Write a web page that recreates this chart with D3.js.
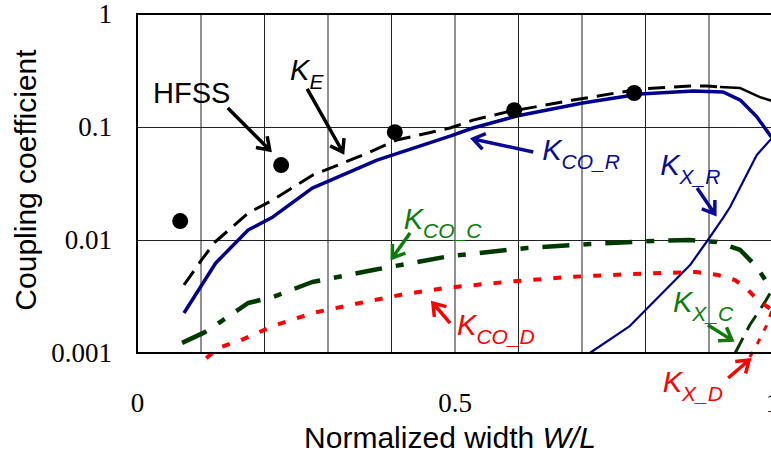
<!DOCTYPE html>
<html>
<head>
<meta charset="utf-8">
<script src="https://cdn.jsdelivr.net/npm/d3@7"></script>
<style>
  html, body { margin: 0; padding: 0; background: #fff; }
  svg { display: block; }
</style>
</head>
<body>
<svg id="chart" width="771" height="453"></svg>
<script>
// ---- data: normalized width W/L vs. coupling coefficient ----
const hfssX = [0.068, 0.227, 0.406, 0.594, 0.783];
const hfssY = [0.0147, 0.046, 0.090, 0.141, 0.200];

const keX = [0.074, 0.102, 0.123, 0.175, 0.214, 0.277, 0.356, 0.409, 0.493, 0.529, 0.583, 0.687, 0.792, 0.871, 0.898, 0.918, 0.950, 0.981, 1.0];
const keY = [0.0040, 0.0067, 0.0096, 0.0173, 0.0226, 0.0376, 0.0565, 0.0767, 0.098, 0.115, 0.136, 0.173, 0.217, 0.231, 0.231, 0.226, 0.221, 0.184, 0.170];

const kcoRX = [0.074, 0.124, 0.175, 0.214, 0.276, 0.378, 0.493, 0.529, 0.598, 0.702, 0.792, 0.876, 0.923, 0.950, 0.976, 1.0];
const kcoRY = [0.00226, 0.00626, 0.01225, 0.016, 0.0288, 0.051, 0.083, 0.098, 0.125, 0.163, 0.196, 0.208, 0.204, 0.173, 0.123, 0.080];

const kxRX = [0.713, 0.776, 0.871, 0.899, 0.923, 0.934, 0.976, 1.0];
const kxRY = [0.001, 0.00173, 0.006, 0.010, 0.0157, 0.0196, 0.0565, 0.080];

const kcoCX = [0.071, 0.107, 0.131, 0.175, 0.214, 0.276, 0.372, 0.493, 0.614, 0.713, 0.813, 0.871, 0.913, 0.950, 0.976, 1.0];
const kcoCY = [0.00123, 0.00153, 0.00188, 0.00277, 0.00313, 0.00425, 0.00543, 0.00721, 0.0085, 0.00922, 0.0098, 0.0100, 0.0096, 0.00816, 0.00577, 0.00361];

const kxCX = [0.942, 0.965, 0.989, 1.0];
const kxCY = [0.001, 0.00177, 0.00283, 0.00361];

const kcoDX = [0.109, 0.128, 0.164, 0.214, 0.277, 0.351, 0.414, 0.485, 0.580, 0.680, 0.780, 0.880, 0.915, 0.942, 0.962, 0.978, 1.0];
const kcoDY = [0.00090, 0.00111, 0.00130, 0.00173, 0.00226, 0.00277, 0.00326, 0.00376, 0.00425, 0.00471, 0.0050, 0.00521, 0.0049, 0.00442, 0.00361, 0.00294, 0.0024];

const kxDX = [0.965, 0.975, 0.991, 1.0];
const kxDY = [0.00092, 0.00115, 0.00173, 0.0024];

const xTicks = [0, 0.5, 1];
const xTickLabels = ["0", "0.5", "1"];
const yTicks = [1, 0.1, 0.01, 0.001];
const yTickLabels = ["1", "0.1", "0.01", "0.001"];
const xGrid = [0.1, 0.2, 0.3, 0.4, 0.5, 0.6, 0.7, 0.8, 0.9];
const yGrid = [0.1, 0.01];

// labels with arrows, positioned in data units
const notes = [
  { main: "HFSS", sub: "", italic: false, color: "#000", size: 29, at: [0.0252, 0.163], from: [0.143, 0.147], to: [0.209, 0.0626] },
  { main: "K", sub: "E", italic: true, color: "#000", size: 29, at: [0.241, 0.261], from: [0.268, 0.217], to: [0.324, 0.0601] },
  { main: "K", sub: "CO_R", italic: true, color: "#0a0a96", size: 29, at: [0.638, 0.051], from: [0.624, 0.0601], to: [0.529, 0.0783] },
  { main: "K", sub: "X_R", italic: true, color: "#0a0a96", size: 29, at: [0.824, 0.0376], from: [0.882, 0.0288], to: [0.910, 0.0170] },
  { main: "K", sub: "CO_C", italic: true, color: "#0c7c0c", size: 29, at: [0.420, 0.0125], from: [0.430, 0.01153], to: [0.402, 0.00693] },
  { main: "K", sub: "CO_D", italic: true, color: "#ff0000", size: 29, at: [0.504, 0.00144], from: [0.493, 0.00184], to: [0.466, 0.00277] },
  { main: "K", sub: "X_C", italic: true, color: "#0c7c0c", size: 29, at: [0.844, 0.00231], from: [0.899, 0.00177], to: [0.937, 0.00130] },
  { main: "K", sub: "X_D", italic: true, color: "#ff0000", size: 29, at: [0.828, 0.000452], from: [0.931, 0.000601], to: [0.964, 0.000867] }
];

// ---- layout ----
const svg = d3.select("#chart");
const plotL = 137, plotR = 772, plotT = 14, plotB = 353;
const x = d3.scaleLinear().domain([0, 1]).range([plotL, plotR]);
const y = d3.scaleLog().domain([0.001, 1]).range([plotB, plotT]);

const sans = "'Liberation Sans', Arial, sans-serif";
const serif = "'Liberation Serif', 'Times New Roman', serif";

// gridlines
svg.append("g")
  .attr("transform", `translate(0,${plotB})`)
  .call(d3.axisBottom(x).tickValues(xGrid).tickSize(-(plotB - plotT)).tickFormat(""))
  .call(g => g.select(".domain").remove())
  .call(g => g.selectAll("line").attr("stroke", "#222").attr("stroke-width", 1));
svg.append("g")
  .attr("transform", `translate(${plotL},0)`)
  .call(d3.axisLeft(y).tickValues(yGrid).tickSize(-(plotR - plotL)).tickFormat(""))
  .call(g => g.select(".domain").remove())
  .call(g => g.selectAll("line").attr("stroke", "#222").attr("stroke-width", 1));

// tick labels
svg.append("g")
  .attr("transform", `translate(${plotL},0)`)
  .call(d3.axisLeft(y).tickValues(yTicks).tickSize(0).tickPadding(25)
    .tickFormat(d => yTickLabels[yTicks.indexOf(d)]))
  .call(g => g.select(".domain").remove())
  .call(g => g.selectAll("text").attr("font-family", serif).attr("font-size", 27).attr("fill", "#000"));
svg.append("g")
  .attr("transform", `translate(0,${plotB})`)
  .call(d3.axisBottom(x).tickValues(xTicks).tickSize(0).tickPadding(40)
    .tickFormat(d => xTickLabels[xTicks.indexOf(d)]))
  .call(g => g.select(".domain").remove())
  .call(g => g.selectAll("text").attr("font-family", serif).attr("font-size", 27).attr("fill", "#000"));

// axis titles
svg.append("text")
  .attr("x", 450).attr("y", 448)
  .attr("text-anchor", "middle")
  .attr("font-family", sans).attr("font-size", 30).attr("fill", "#000")
  .call(t => {
    t.append("tspan").text("Normalized width ");
    t.append("tspan").attr("font-style", "italic").text("W/L");
  });
svg.append("text")
  .attr("transform", "translate(36,180) rotate(-90)")
  .attr("text-anchor", "middle")
  .attr("font-family", sans).attr("font-size", 30).attr("fill", "#000")
  .text("Coupling coefficient");

// curves
const line = d3.line().x(d => x(d[0])).y(d => y(d[1]));
const zip = (xs, ys) => xs.map((v, i) => [v, ys[i]]);

function drawCurve(pts, color, width, dash) {
  svg.append("path")
    .attr("d", line(pts))
    .attr("fill", "none")
    .attr("stroke", color)
    .attr("stroke-width", width)
    .attr("stroke-dasharray", dash || null)
    .attr("stroke-linejoin", "round");
}

const kePts = zip(keX, keY);
drawCurve(kePts.filter(d => d[0] <= 0.918), "#000", 3, "17,9");
drawCurve(kePts.filter(d => d[0] >= 0.918), "#000", 2.5, null);
drawCurve(zip(kcoRX, kcoRY), "#00008c", 3.5, null);
drawCurve(zip(kxRX, kxRY), "#00008c", 2.2, null);
drawCurve(zip(kcoCX, kcoCY), "#003a00", 4.5, "27,14,8,14");
drawCurve(zip(kxCX, kxCY), "#003a00", 3, "17,9");
drawCurve(zip(kcoDX, kcoDY), "#ff0000", 4, "8,12");
drawCurve(zip(kxDX, kxDY), "#ff0000", 3, "6,9");

// HFSS points
svg.append("g").selectAll("circle")
  .data(zip(hfssX, hfssY))
  .join("circle")
  .attr("cx", d => x(d[0]))
  .attr("cy", d => y(d[1]))
  .attr("r", 8)
  .attr("fill", "#000");

// plot frame
svg.append("rect")
  .attr("x", plotL).attr("y", plotT)
  .attr("width", plotR - plotL).attr("height", plotB - plotT)
  .attr("fill", "none").attr("stroke", "#000").attr("stroke-width", 2);

// labels and arrows
function arrow(from, to, color) {
  const x1 = x(from[0]), y1 = y(from[1]), x2 = x(to[0]), y2 = y(to[1]);
  const ang = Math.atan2(y2 - y1, x2 - x1);
  const len = 14, spread = Math.PI / 5.2;
  const a1 = [x2 - len * Math.cos(ang - spread), y2 - len * Math.sin(ang - spread)];
  const a2 = [x2 - len * Math.cos(ang + spread), y2 - len * Math.sin(ang + spread)];
  svg.append("path")
    .attr("d", `M${x1},${y1}L${x2},${y2}M${a1[0]},${a1[1]}L${x2},${y2}L${a2[0]},${a2[1]}`)
    .attr("fill", "none").attr("stroke", color).attr("stroke-width", 3.5)
    .attr("stroke-linejoin", "miter");
}

notes.forEach(n => {
  const t = svg.append("text")
    .attr("x", x(n.at[0])).attr("y", y(n.at[1]))
    .attr("font-family", sans).attr("fill", n.color);
  t.append("tspan").attr("font-size", n.size)
    .attr("font-style", n.italic ? "italic" : "normal").text(n.main);
  if (n.sub) {
    t.append("tspan").attr("font-size", 21).attr("font-style", "italic")
      .attr("dy", 9).text(n.sub);
  }
  arrow(n.from, n.to, n.color);
});
</script>
</body>
</html>
